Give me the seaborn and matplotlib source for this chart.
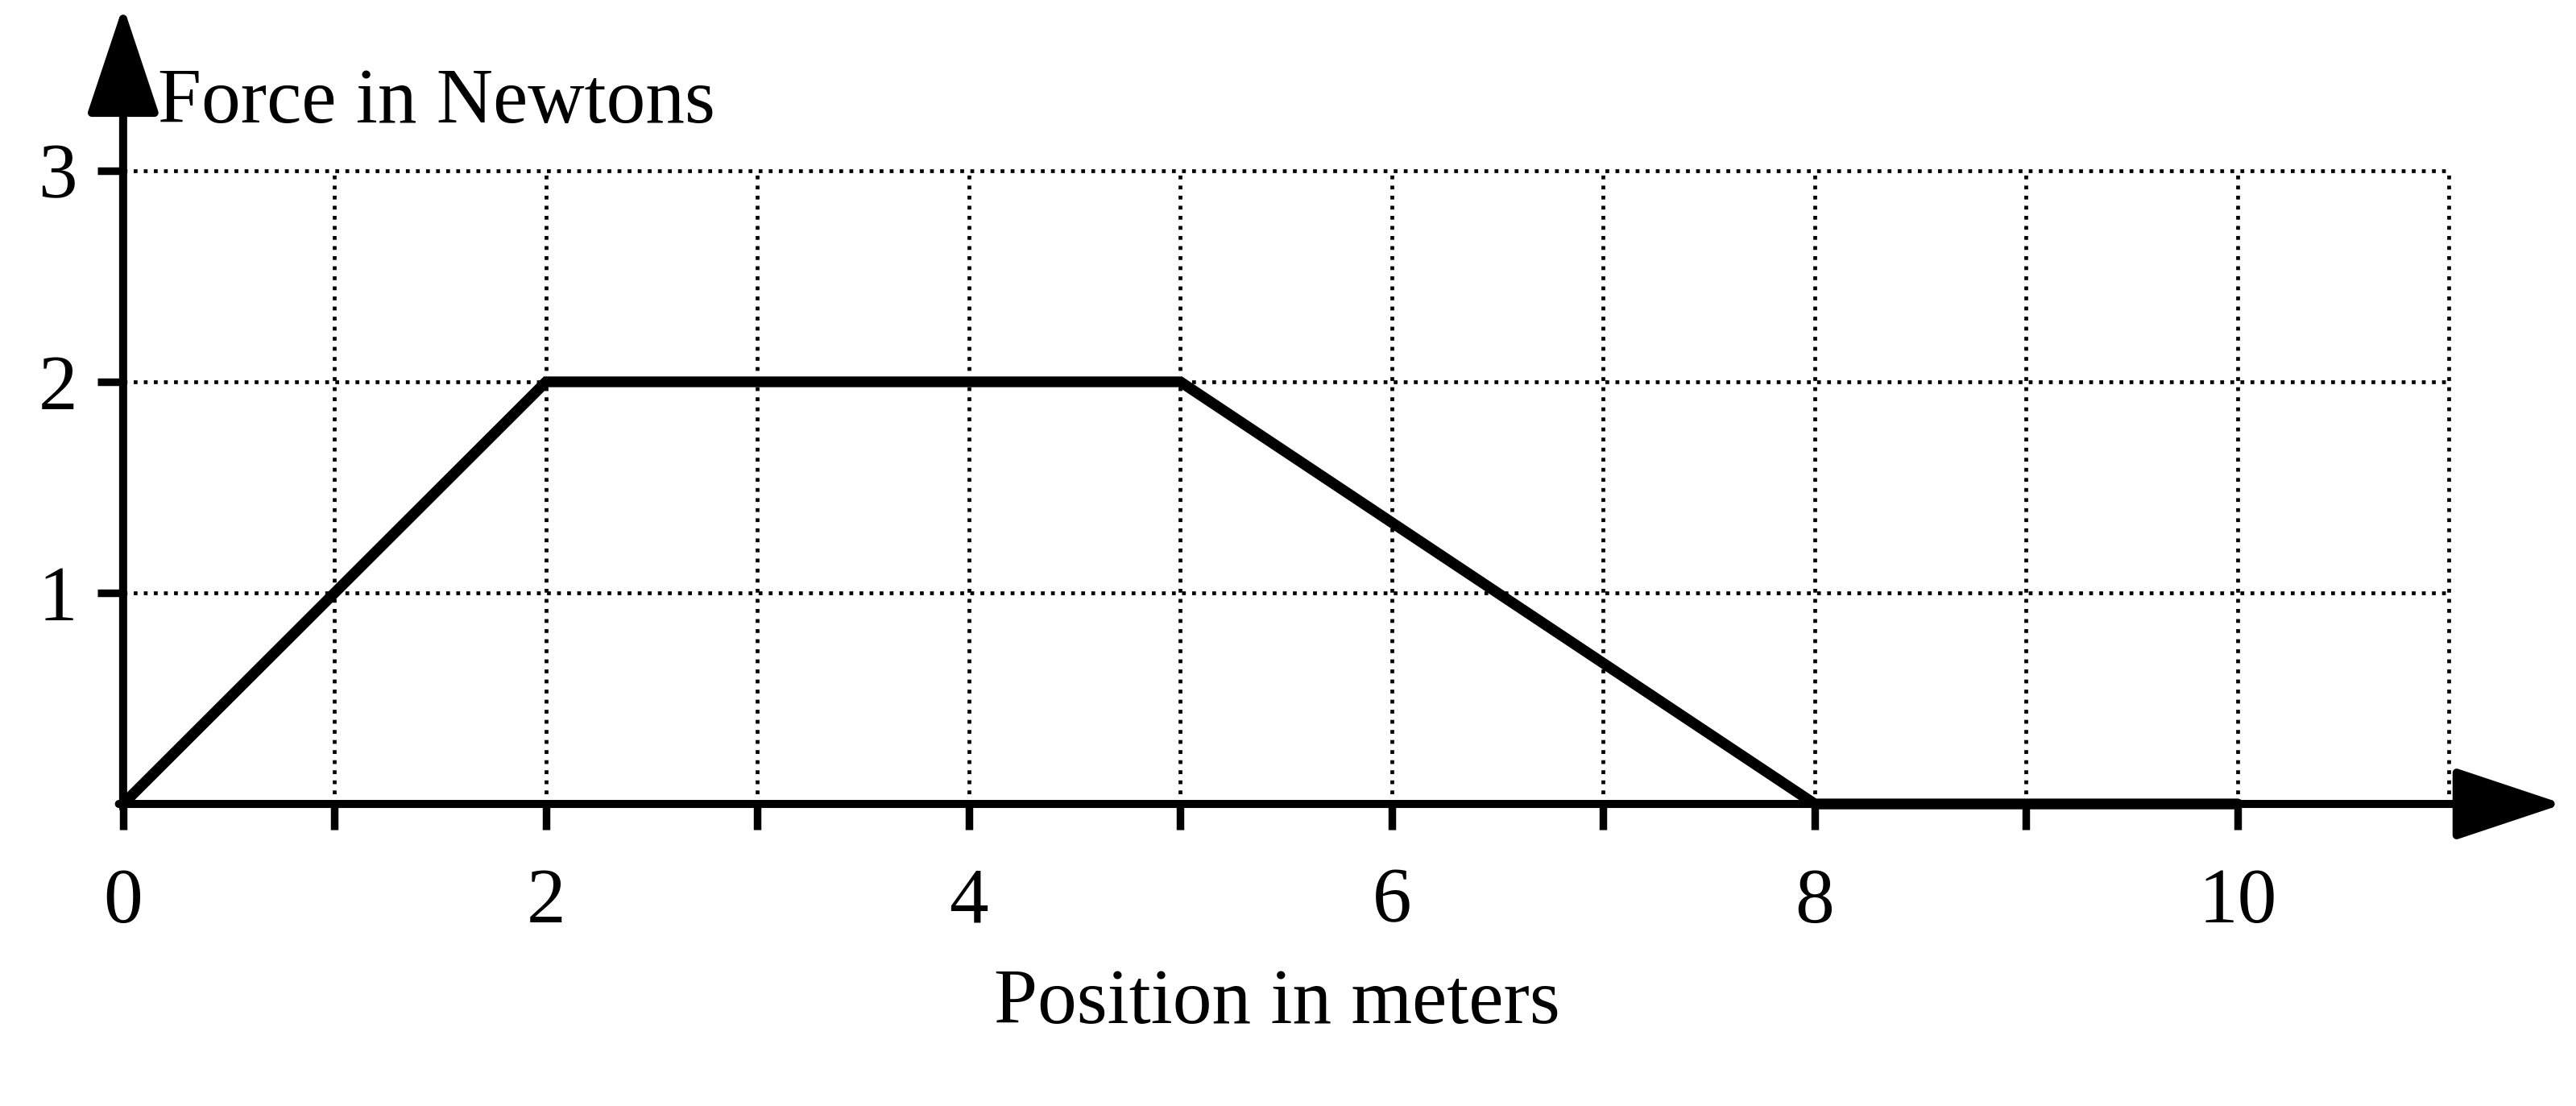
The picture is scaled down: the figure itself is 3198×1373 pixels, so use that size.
import pandas as pd
import matplotlib.pyplot as plt
import seaborn as sns

sns.set_theme(style="white")
plt.rcParams["font.family"] = ["Liberation Serif", "DejaVu Serif"]

# force vs position
position_m = [0, 2, 5, 8, 10]
force_n = [0, 2, 2, 0, 0]
x_major = [0, 2, 4, 6, 8, 10]
x_minor = [1, 3, 5, 7, 9]
y_ticks = [1, 2, 3]
grid_x = list(range(1, 12))
grid_y = [1, 2, 3]

df = pd.DataFrame({"position": position_m, "force": force_n})

fig = plt.figure(figsize=(15.99, 6.865), dpi=200)
# axes placed so that the origin sits where the drawn axes cross
ax = fig.add_axes([0.0478, 0.2731, 0.9522, 0.7269])
ax.set_xlim(0, 11.6)
ax.set_ylim(0, 3.809)
for s in ax.spines.values():
    s.set_visible(False)

# dotted grid only over the 0..11 x 0..3 box
ax.vlines(grid_x, 0, 3, colors="black", linestyles=":", lw=1.7)
ax.hlines(grid_y, 0, 11, colors="black", linestyles=":", lw=1.7)

# axes with arrow heads
arrow = dict(arrowstyle="-|>,head_length=42,head_width=14", mutation_scale=1,
             color="black", lw=3.6, shrinkA=0, shrinkB=0)
ax.annotate("", xy=(11.54, 0), xytext=(-0.02, 0), arrowprops=arrow, annotation_clip=False)
ax.annotate("", xy=(0, 3.78), xytext=(0, -0.02), arrowprops=arrow, annotation_clip=False)

sns.lineplot(data=df, x="position", y="force", color="black", lw=4.8, ax=ax,
             clip_on=False, solid_joinstyle="miter", zorder=5)

ax.set_xticks(x_major)
ax.set_xticks(x_minor, minor=True)
ax.set_xticklabels([str(v) for v in x_major])
ax.set_yticks(y_ticks)
ax.set_yticklabels([str(v) for v in y_ticks])
ax.tick_params(axis="both", which="both", direction="out", length=11.5, width=3.4,
               color="black", labelcolor="black", labelsize=35,
               bottom=True, left=True)
ax.tick_params(axis="x", which="both", pad=17)
ax.tick_params(axis="y", pad=9)

ax.set_xlabel("Position in meters", fontsize=35, color="black", va="baseline")
ax.xaxis.set_label_coords(0.4703, -0.273)
ax.set_ylabel("Force in Newtons", fontsize=35, color="black", rotation=0,
              ha="left", va="baseline")
ax.yaxis.set_label_coords(0.0141, 0.848)

fig.savefig("out.png", dpi=200, facecolor="white")
